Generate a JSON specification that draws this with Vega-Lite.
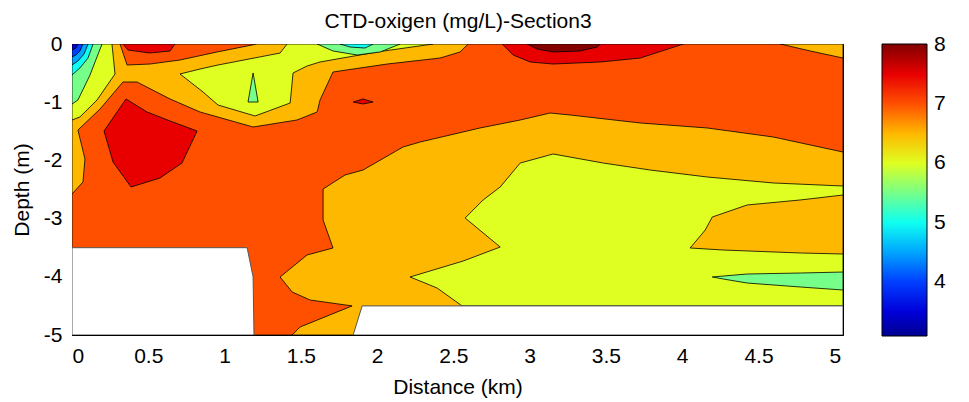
{
"$schema": "https://vega.github.io/schema/vega-lite/v6.json",
"width": 771, "height": 291,
"autosize": {"type": "none"},
"padding": {"left": 72, "top": 44, "right": 126, "bottom": 67},
"background": "white",
"datasets": {
"poly": [
{"p":"p01","v":7,"i":0,"x":0,"y":0},{"p":"p01","v":7,"i":1,"x":5.054,"y":0},{"p":"p01","v":7,"i":2,"x":5.054,"y":-5},{"p":"p01","v":7,"i":3,"x":0,"y":-5},{"p":"p01","v":7,"i":4,"x":0,"y":0},
{"p":"p02","v":6.5,"i":0,"x":1.443,"y":-5},{"p":"p02","v":6.5,"i":1,"x":1.495,"y":-4.863},{"p":"p02","v":6.5,"i":2,"x":1.836,"y":-4.5},{"p":"p02","v":6.5,"i":3,"x":1.561,"y":-4.399},{"p":"p02","v":6.5,"i":4,"x":1.443,"y":-4.261},{"p":"p02","v":6.5,"i":5,"x":1.364,"y":-4.003},{"p":"p02","v":6.5,"i":6,"x":1.541,"y":-3.625},{"p":"p02","v":6.5,"i":7,"x":1.711,"y":-3.505},{"p":"p02","v":6.5,"i":8,"x":1.646,"y":-3.024},{"p":"p02","v":6.5,"i":9,"x":1.646,"y":-2.491},{"p":"p02","v":6.5,"i":10,"x":1.79,"y":-2.251},{"p":"p02","v":6.5,"i":11,"x":1.908,"y":-2.165},{"p":"p02","v":6.5,"i":12,"x":2.17,"y":-1.77},{"p":"p02","v":6.5,"i":13,"x":2.282,"y":-1.684},{"p":"p02","v":6.5,"i":14,"x":2.675,"y":-1.443},{"p":"p02","v":6.5,"i":15,"x":2.938,"y":-1.306},{"p":"p02","v":6.5,"i":16,"x":3.134,"y":-1.186},{"p":"p02","v":6.5,"i":17,"x":3.266,"y":-1.22},{"p":"p02","v":6.5,"i":18,"x":3.725,"y":-1.357},{"p":"p02","v":6.5,"i":19,"x":4.164,"y":-1.443},{"p":"p02","v":6.5,"i":20,"x":4.597,"y":-1.598},{"p":"p02","v":6.5,"i":21,"x":5.054,"y":-1.856},{"p":"p02","v":6.5,"i":22,"x":5.054,"y":-5},{"p":"p02","v":6.5,"i":23,"x":1.443,"y":-5},
{"p":"p03","v":6.5,"i":0,"x":0,"y":0},{"p":"p03","v":6.5,"i":1,"x":0.315,"y":0},{"p":"p03","v":6.5,"i":2,"x":0.361,"y":-0.361},{"p":"p03","v":6.5,"i":3,"x":0.511,"y":-0.344},{"p":"p03","v":6.5,"i":4,"x":0.708,"y":-0.275},{"p":"p03","v":6.5,"i":5,"x":0.951,"y":-0.137},{"p":"p03","v":6.5,"i":6,"x":1.213,"y":0},{"p":"p03","v":6.5,"i":7,"x":2.597,"y":0},{"p":"p03","v":6.5,"i":8,"x":2.544,"y":-0.137},{"p":"p03","v":6.5,"i":9,"x":2.413,"y":-0.241},{"p":"p03","v":6.5,"i":10,"x":2.066,"y":-0.344},{"p":"p03","v":6.5,"i":11,"x":1.711,"y":-0.481},{"p":"p03","v":6.5,"i":12,"x":1.626,"y":-0.962},{"p":"p03","v":6.5,"i":13,"x":1.607,"y":-1.168},{"p":"p03","v":6.5,"i":14,"x":1.475,"y":-1.306},{"p":"p03","v":6.5,"i":15,"x":1.187,"y":-1.426},{"p":"p03","v":6.5,"i":16,"x":0.839,"y":-1.168},{"p":"p03","v":6.5,"i":17,"x":0.643,"y":-0.945},{"p":"p03","v":6.5,"i":18,"x":0.426,"y":-0.653},{"p":"p03","v":6.5,"i":19,"x":0.334,"y":-0.653},{"p":"p03","v":6.5,"i":20,"x":0.184,"y":-1.117},{"p":"p03","v":6.5,"i":21,"x":0.039,"y":-1.478},{"p":"p03","v":6.5,"i":22,"x":0.085,"y":-1.976},{"p":"p03","v":6.5,"i":23,"x":0.072,"y":-2.371},{"p":"p03","v":6.5,"i":24,"x":0,"y":-2.577},{"p":"p03","v":6.5,"i":25,"x":0,"y":0},
{"p":"p04","v":6.5,"i":0,"x":4.643,"y":0},{"p":"p04","v":6.5,"i":1,"x":4.839,"y":-0.12},{"p":"p04","v":6.5,"i":2,"x":5.054,"y":-0.241},{"p":"p04","v":6.5,"i":3,"x":5.054,"y":0},{"p":"p04","v":6.5,"i":4,"x":4.643,"y":0},
{"p":"p05","v":6,"i":0,"x":2.557,"y":-4.5},{"p":"p05","v":6,"i":1,"x":2.393,"y":-4.192},{"p":"p05","v":6,"i":2,"x":2.216,"y":-4.003},{"p":"p05","v":6,"i":3,"x":2.564,"y":-3.729},{"p":"p05","v":6,"i":4,"x":2.807,"y":-3.488},{"p":"p05","v":6,"i":5,"x":2.577,"y":-2.99},{"p":"p05","v":6,"i":6,"x":2.695,"y":-2.68},{"p":"p05","v":6,"i":7,"x":2.807,"y":-2.457},{"p":"p05","v":6,"i":8,"x":2.938,"y":-2.045},{"p":"p05","v":6,"i":9,"x":3.154,"y":-1.89},{"p":"p05","v":6,"i":10,"x":3.482,"y":-2.045},{"p":"p05","v":6,"i":11,"x":3.79,"y":-2.165},{"p":"p05","v":6,"i":12,"x":4.164,"y":-2.285},{"p":"p05","v":6,"i":13,"x":4.597,"y":-2.388},{"p":"p05","v":6,"i":14,"x":5.054,"y":-2.44},{"p":"p05","v":6,"i":15,"x":5.054,"y":-4.5},{"p":"p05","v":6,"i":16,"x":2.557,"y":-4.5},
{"p":"p06","v":6,"i":0,"x":0.708,"y":-0.515},{"p":"p06","v":6,"i":1,"x":0.839,"y":-0.43},{"p":"p06","v":6,"i":2,"x":0.957,"y":-0.361},{"p":"p06","v":6,"i":3,"x":1.364,"y":-0.155},{"p":"p06","v":6,"i":4,"x":1.41,"y":0},{"p":"p06","v":6,"i":5,"x":2.367,"y":0},{"p":"p06","v":6,"i":6,"x":2.0,"y":-0.137},{"p":"p06","v":6,"i":7,"x":1.626,"y":-0.309},{"p":"p06","v":6,"i":8,"x":1.541,"y":-0.378},{"p":"p06","v":6,"i":9,"x":1.449,"y":-0.498},{"p":"p06","v":6,"i":10,"x":1.43,"y":-1.014},{"p":"p06","v":6,"i":11,"x":1.2,"y":-1.237},{"p":"p06","v":6,"i":12,"x":0.957,"y":-1.048},{"p":"p06","v":6,"i":13,"x":0.859,"y":-0.825},{"p":"p06","v":6,"i":14,"x":0.708,"y":-0.515},
{"p":"p07","v":6,"i":0,"x":0,"y":0},{"p":"p07","v":6,"i":1,"x":0.262,"y":0},{"p":"p07","v":6,"i":2,"x":0.282,"y":-0.515},{"p":"p07","v":6,"i":3,"x":0.164,"y":-0.962},{"p":"p07","v":6,"i":4,"x":0.052,"y":-1.254},{"p":"p07","v":6,"i":5,"x":0,"y":-1.306},{"p":"p07","v":6,"i":6,"x":0,"y":0},
{"p":"p08","v":6.5,"i":0,"x":5.054,"y":-2.595},{"p":"p08","v":6.5,"i":1,"x":4.774,"y":-2.68},{"p":"p08","v":6.5,"i":2,"x":4.426,"y":-2.766},{"p":"p08","v":6.5,"i":3,"x":4.197,"y":-2.973},{"p":"p08","v":6.5,"i":4,"x":4.151,"y":-3.196},{"p":"p08","v":6.5,"i":5,"x":4.052,"y":-3.505},{"p":"p08","v":6.5,"i":6,"x":4.269,"y":-3.54},{"p":"p08","v":6.5,"i":7,"x":4.774,"y":-3.591},{"p":"p08","v":6.5,"i":8,"x":5.054,"y":-3.608},{"p":"p08","v":6.5,"i":9,"x":5.054,"y":-2.595},
{"p":"p09","v":5.5,"i":0,"x":4.197,"y":-4.003},{"p":"p09","v":5.5,"i":1,"x":4.426,"y":-3.952},{"p":"p09","v":5.5,"i":2,"x":4.774,"y":-3.935},{"p":"p09","v":5.5,"i":3,"x":5.054,"y":-3.918},{"p":"p09","v":5.5,"i":4,"x":5.054,"y":-4.227},{"p":"p09","v":5.5,"i":5,"x":4.774,"y":-4.175},{"p":"p09","v":5.5,"i":6,"x":4.426,"y":-4.107},{"p":"p09","v":5.5,"i":7,"x":4.269,"y":-4.038},{"p":"p09","v":5.5,"i":8,"x":4.197,"y":-4.003},
{"p":"p10","v":5.5,"i":0,"x":1.187,"y":-0.498},{"p":"p10","v":5.5,"i":1,"x":1.22,"y":-0.997},{"p":"p10","v":5.5,"i":2,"x":1.154,"y":-0.997},{"p":"p10","v":5.5,"i":3,"x":1.187,"y":-0.498},
{"p":"p11","v":5.5,"i":0,"x":1.607,"y":0},{"p":"p11","v":5.5,"i":1,"x":1.711,"y":-0.12},{"p":"p11","v":5.5,"i":2,"x":1.869,"y":-0.189},{"p":"p11","v":5.5,"i":3,"x":2.02,"y":-0.137},{"p":"p11","v":5.5,"i":4,"x":2.151,"y":0},{"p":"p11","v":5.5,"i":5,"x":1.607,"y":0},
{"p":"p12","v":5.5,"i":0,"x":0,"y":0},{"p":"p12","v":5.5,"i":1,"x":0.197,"y":0},{"p":"p12","v":5.5,"i":2,"x":0.151,"y":-0.309},{"p":"p12","v":5.5,"i":3,"x":0.118,"y":-0.533},{"p":"p12","v":5.5,"i":4,"x":0.039,"y":-0.962},{"p":"p12","v":5.5,"i":5,"x":0,"y":-1.031},{"p":"p12","v":5.5,"i":6,"x":0,"y":0},
{"p":"p13","v":5,"i":0,"x":1.757,"y":0},{"p":"p13","v":5,"i":1,"x":1.823,"y":-0.052},{"p":"p13","v":5,"i":2,"x":1.921,"y":-0.069},{"p":"p13","v":5,"i":3,"x":1.974,"y":0},{"p":"p13","v":5,"i":4,"x":1.757,"y":0},
{"p":"p14","v":5,"i":0,"x":0,"y":0},{"p":"p14","v":5,"i":1,"x":0.138,"y":0},{"p":"p14","v":5,"i":2,"x":0.105,"y":-0.241},{"p":"p14","v":5,"i":3,"x":0.052,"y":-0.412},{"p":"p14","v":5,"i":4,"x":0,"y":-0.533},{"p":"p14","v":5,"i":5,"x":0,"y":0},
{"p":"p15","v":4.5,"i":0,"x":0,"y":0},{"p":"p15","v":4.5,"i":1,"x":0.105,"y":0},{"p":"p15","v":4.5,"i":2,"x":0.079,"y":-0.172},{"p":"p15","v":4.5,"i":3,"x":0.039,"y":-0.292},{"p":"p15","v":4.5,"i":4,"x":0,"y":-0.361},{"p":"p15","v":4.5,"i":5,"x":0,"y":0},
{"p":"p16","v":4,"i":0,"x":0,"y":0},{"p":"p16","v":4,"i":1,"x":0.072,"y":0},{"p":"p16","v":4,"i":2,"x":0.052,"y":-0.12},{"p":"p16","v":4,"i":3,"x":0.026,"y":-0.189},{"p":"p16","v":4,"i":4,"x":0,"y":-0.223},{"p":"p16","v":4,"i":5,"x":0,"y":0},
{"p":"p17","v":3.5,"i":0,"x":0,"y":0},{"p":"p17","v":3.5,"i":1,"x":0.039,"y":0},{"p":"p17","v":3.5,"i":2,"x":0.026,"y":-0.069},{"p":"p17","v":3.5,"i":3,"x":0,"y":-0.103},{"p":"p17","v":3.5,"i":4,"x":0,"y":0},
{"p":"p18","v":7.5,"i":0,"x":0.354,"y":-0.945},{"p":"p18","v":7.5,"i":1,"x":0.21,"y":-1.495},{"p":"p18","v":7.5,"i":2,"x":0.269,"y":-2.028},{"p":"p18","v":7.5,"i":3,"x":0.387,"y":-2.457},{"p":"p18","v":7.5,"i":4,"x":0.577,"y":-2.302},{"p":"p18","v":7.5,"i":5,"x":0.721,"y":-2.045},{"p":"p18","v":7.5,"i":6,"x":0.82,"y":-1.495},{"p":"p18","v":7.5,"i":7,"x":0.643,"y":-1.323},{"p":"p18","v":7.5,"i":8,"x":0.492,"y":-1.168},{"p":"p18","v":7.5,"i":9,"x":0.354,"y":-0.945},
{"p":"p19","v":7.5,"i":0,"x":0.334,"y":0},{"p":"p19","v":7.5,"i":1,"x":0.367,"y":-0.103},{"p":"p19","v":7.5,"i":2,"x":0.511,"y":-0.155},{"p":"p19","v":7.5,"i":3,"x":0.643,"y":-0.12},{"p":"p19","v":7.5,"i":4,"x":0.675,"y":0},{"p":"p19","v":7.5,"i":5,"x":0.334,"y":0},
{"p":"p20","v":7.5,"i":0,"x":2.82,"y":0},{"p":"p20","v":7.5,"i":1,"x":2.892,"y":-0.189},{"p":"p20","v":7.5,"i":2,"x":3.003,"y":-0.309},{"p":"p20","v":7.5,"i":3,"x":3.154,"y":-0.344},{"p":"p20","v":7.5,"i":4,"x":3.462,"y":-0.309},{"p":"p20","v":7.5,"i":5,"x":3.725,"y":-0.241},{"p":"p20","v":7.5,"i":6,"x":4.007,"y":0},{"p":"p20","v":7.5,"i":7,"x":2.82,"y":0},
{"p":"p21","v":7.5,"i":0,"x":1.843,"y":-0.997},{"p":"p21","v":7.5,"i":1,"x":1.908,"y":-0.945},{"p":"p21","v":7.5,"i":2,"x":1.974,"y":-0.997},{"p":"p21","v":7.5,"i":3,"x":1.908,"y":-1.031},{"p":"p21","v":7.5,"i":4,"x":1.843,"y":-0.997},
{"p":"p22","v":8,"i":0,"x":2.984,"y":0},{"p":"p22","v":8,"i":1,"x":3.049,"y":-0.086},{"p":"p22","v":8,"i":2,"x":3.154,"y":-0.137},{"p":"p22","v":8,"i":3,"x":3.331,"y":-0.12},{"p":"p22","v":8,"i":4,"x":3.443,"y":-0.052},{"p":"p22","v":8,"i":5,"x":3.462,"y":0},{"p":"p22","v":8,"i":6,"x":2.984,"y":0}
],
"mask": [
{"m":"m1","i":0,"x":0,"y":-3.5},{"m":"m1","i":1,"x":1.148,"y":-3.5},{"m":"m1","i":2,"x":1.187,"y":-4.0},{"m":"m1","i":3,"x":1.193,"y":-5},{"m":"m1","i":4,"x":0,"y":-5},{"m":"m1","i":5,"x":0,"y":-3.5},
{"m":"m2","i":0,"x":1.843,"y":-5},{"m":"m2","i":1,"x":1.902,"y":-4.5},{"m":"m2","i":2,"x":5.054,"y":-4.5},{"m":"m2","i":3,"x":5.054,"y":-5},{"m":"m2","i":4,"x":1.843,"y":-5}
]
},
"layer": [
{
"data": {"name": "poly"},
"mark": {"type": "line", "stroke": "black", "strokeWidth": 0.8, "strokeJoin": "round", "clip": true},
"encoding": {
"x": {"field": "x", "type": "quantitative", "scale": {"domain": [0, 5.054], "nice": false, "zero": false},
"axis": {"values": [0,0.5,1,1.5,2,2.5,3,3.5,4,4.5,5], "labelExpr": "'' + datum.value", "title": "Distance (km)", "titleY": 58, "titleBaseline": "alphabetic", "labelPadding": 18}},
"y": {"field": "y", "type": "quantitative", "scale": {"domain": [-5, 0], "nice": false, "zero": false},
"axis": {"values": [-5,-4,-3,-2,-1,0], "labelExpr": "'' + datum.value", "title": "Depth (m)", "titleX": -44, "titleY": 145.5, "titleBaseline": "alphabetic", "titleAlign": "center", "titleAngle": -90, "labelPadding": 18}},
"detail": {"field": "p"},
"order": {"field": "i", "type": "quantitative"},
"fill": {"field": "v", "type": "quantitative",
"scale": {"domain": [3.09, 3.704, 4.931, 6.159, 7.386, 8.01], "range": ["#000090", "#0000FF", "#00FFFF", "#FFFF00", "#FF0000", "#800000"], "interpolate": "rgb"},
"legend": {"title": null, "orient": "right", "offset": 38, "direction": "vertical", "gradientLength": 292, "gradientThickness": 45, "values": [4,5,6,7,8], "labelFont": "Liberation Sans", "labelFontSize": 21, "labelColor": "black", "labelOffset": 7, "labelBaseline": "middle", "labelOverlap": false, "gradientStrokeColor": "black", "gradientStrokeWidth": 1, "padding": 0}}
}
},
{
"data": {"name": "mask"},
"mark": {"type": "line", "fill": "white", "stroke": "#555555", "strokeWidth": 1, "clip": true},
"encoding": {
"x": {"field": "x", "type": "quantitative", "scale": {"domain": [0, 5.054], "nice": false, "zero": false},
"axis": {"orient": "top", "values": [0,0.5,1,1.5,2,2.5,3,3.5,4,4.5,5], "labels": false, "title": "CTD-oxigen (mg/L)-Section3", "titleX": 385.5, "titleY": -17, "titleAlign": "center", "titleBaseline": "alphabetic"}},
"y": {"field": "y", "type": "quantitative", "scale": {"domain": [-5, 0], "nice": false, "zero": false},
"axis": {"orient": "right", "values": [-5,-4,-3,-2,-1,0], "labels": false, "title": null}},
"detail": {"field": "m"},
"order": {"field": "i", "type": "quantitative"}
}
}
],
"resolve": {"axis": {"x": "independent", "y": "independent"}},
"config": {
"view": {"stroke": null},
"axis": {"grid": false, "domainColor": "black", "domainWidth": 1, "tickColor": "black", "tickWidth": 1, "tickSize": -8, "labelColor": "black", "labelFont": "Liberation Sans", "labelFontSize": 21, "titleColor": "black", "titleFont": "Liberation Sans", "titleFontSize": 21, "titleFontWeight": "normal", "zindex": 1}
}
}
